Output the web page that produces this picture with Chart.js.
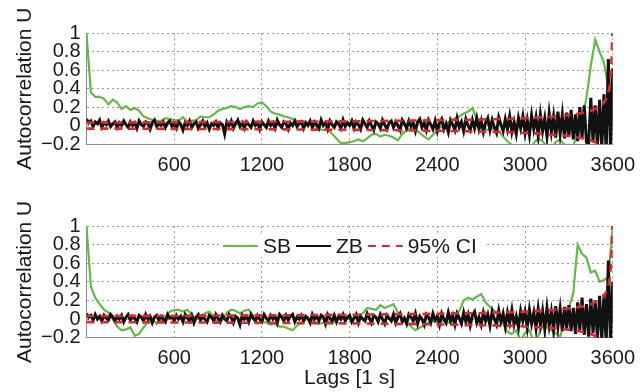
<!DOCTYPE html>
<html>
<head>
<meta charset="utf-8">
<script src="https://cdn.jsdelivr.net/npm/chart.js@4.4.1/dist/chart.umd.min.js"></script>
<style>
  body { margin: 0; background: #fff; }
  canvas { display: block; }
</style>
</head>
<body>
<canvas id="top" width="644" height="196"></canvas>
<canvas id="bottom" width="644" height="196"></canvas>
<script>
// lag spacing of the typed samples (seconds)
const sbStep = 30;
const zbStep = 15;

const xTicks = [600, 1200, 1800, 2400, 3000, 3600];
const yTicks = [-0.2, 0, 0.2, 0.4, 0.6, 0.8, 1];

// SB autocorrelation, one value every 30 s
const sbTop = [
  1.00, 0.36, 0.31, 0.31, 0.29, 0.23, 0.28, 0.25, 0.18, 0.21,
  0.17, 0.19, 0.16, 0.10, 0.08, 0.06, 0.05, 0.05, 0.08, 0.07,
  0.06, 0.05, 0.09, 0.04, 0.05, 0.06, 0.10, 0.09, 0.09, 0.12,
  0.16, 0.18, 0.19, 0.21, 0.20, 0.18, 0.20, 0.21, 0.20, 0.24,
  0.25, 0.21, 0.15, 0.13, 0.12, 0.10, 0.09, 0.07, 0.05, 0.04,
  0.03, 0.02, 0.00, -0.04, -0.05, -0.04, -0.09, -0.14, -0.19, -0.19,
  -0.18, -0.17, -0.15, -0.17, -0.14, -0.10, -0.09, -0.12, -0.10, -0.11,
  -0.13, -0.16, -0.09, -0.05, -0.03, -0.04, -0.08, -0.12, -0.15, -0.10,
  -0.05, -0.01, 0.02, 0.05, 0.08, 0.10, 0.13, 0.15, 0.19, 0.07,
  0.01, -0.04, -0.05, -0.02, -0.06, -0.12, -0.17, -0.21, -0.26, -0.24,
  -0.22, -0.28, -0.19, -0.14, -0.17, -0.23, -0.25, -0.18, -0.15, -0.21,
  -0.27, -0.22, -0.08, 0.08, 0.30, 0.65, 0.93, 0.80, 0.68, 0.42,
  0.25
];
const sbBottom = [
  1.00, 0.35, 0.23, 0.16, 0.10, 0.07, 0.00, -0.08, -0.12, -0.11,
  -0.09, -0.18, -0.16, -0.09, -0.03, 0.00, -0.05, -0.02, 0.02, 0.08,
  0.10, 0.10, 0.08, 0.10, 0.05, 0.00, 0.02, 0.06, 0.08, 0.02,
  -0.04, -0.01, 0.07, 0.10, 0.09, 0.06, 0.09, 0.10, 0.04, -0.05,
  -0.02, -0.04, -0.06, -0.05, -0.08, -0.08, -0.10, -0.12, -0.07, -0.04,
  0.00, -0.01, -0.03, -0.05, -0.04, -0.02, -0.05, 0.00, 0.03, 0.02,
  0.00, 0.01, 0.04, 0.06, 0.12, 0.11, 0.10, 0.15, 0.12, 0.14,
  0.16, 0.07, 0.01, -0.04, -0.08, -0.12, -0.09, -0.07, -0.04, -0.02,
  -0.03, -0.02, -0.03, -0.04, 0.00, 0.09, 0.20, 0.23, 0.21, 0.24,
  0.27, 0.18, 0.13, 0.09, 0.05, -0.05, -0.14, -0.16, -0.12, -0.23,
  -0.15, -0.12, -0.24, -0.18, -0.07, -0.09, -0.12, -0.15, -0.19, -0.03,
  0.12, 0.28, 0.80, 0.70, 0.66, 0.50, 0.52, 0.40, 0.42, 0.45,
  1.00
];

// ZB autocorrelation, one value every 15 s
const zbTop = [
  0.07, 0.03, 0.05, -0.01, 0.04, 0.02, 0.06, -0.02, 0.03, 0.01, 0.05, -0.01, 0.02, 0.04, -0.02, 0.03, 0.00, 0.05, 0.01, -0.02,
  0.04, 0.00, 0.03, -0.03, 0.05, 0.01, -0.01, 0.04, 0.02, -0.04, 0.03, 0.06, -0.01, 0.02, 0.00, 0.04, -0.02, 0.03, 0.05, -0.01,
  0.02, -0.03, 0.04, 0.01, -0.05, 0.03, 0.00, 0.05, -0.02, 0.02, 0.04, -0.03, 0.01, 0.05, -0.01, 0.03, -0.04, 0.02, 0.00, 0.04,
  -0.02, 0.03, 0.01, -0.09, 0.04, 0.00, 0.05, -0.03, 0.02, 0.06, -0.01, 0.03, -0.03, 0.04, 0.01, -0.02, 0.05, 0.00, 0.03, -0.04,
  0.04, 0.01, -0.02, 0.05, 0.00, 0.03, -0.03, 0.06, 0.01, -0.02, 0.04, 0.02, -0.04, 0.03, 0.00, 0.05, -0.01, 0.02, 0.04, -0.03,
  0.03, 0.00, 0.05, -0.02, 0.04, 0.01, -0.03, 0.06, 0.00, 0.03, -0.04, 0.05, 0.01, -0.02, 0.04, 0.02, -0.03, 0.06, -0.01, 0.03,
  0.00, 0.05, -0.03, 0.04, 0.01, -0.04, 0.06, 0.02, -0.02, 0.05, 0.00, -0.05, 0.04, 0.02, -0.03, 0.06, 0.01, -0.04, 0.03, 0.05,
  -0.02, 0.04, 0.00, -0.05, 0.06, 0.02, -0.03, 0.05, -0.01, 0.03, -0.06, 0.04, 0.07, -0.02, 0.03, -0.05, 0.06, 0.01, -0.04, 0.05,
  -0.06, 0.03, 0.07, -0.04, 0.02, -0.07, 0.06, 0.01, -0.05, 0.08, -0.02, 0.04, -0.06, 0.07, 0.00, -0.05, 0.06, -0.03, 0.08, -0.04,
  0.05, -0.07, 0.03, 0.08, -0.05, 0.06, -0.02, -0.08, 0.09, 0.01, -0.06, 0.07, -0.04, 0.10, -0.07, 0.04, -0.09, 0.08, -0.03, 0.10,
  -0.08, 0.06, -0.10, 0.11, -0.04, 0.09, -0.11, 0.12, -0.06, 0.08, -0.12, 0.13, -0.07, 0.10, -0.13, 0.15, -0.09, 0.12, -0.14, 0.14,
  -0.12, 0.17, -0.15, 0.12, -0.17, 0.20, -0.13, 0.22, -0.18, -0.20, 0.30, -0.18, 0.22, -0.22, 0.28, -0.25, 0.34, -0.28, 0.72, -0.30,
  0.62
];
const zbBottom = [
  0.06, 0.02, 0.04, -0.01, 0.05, 0.00, 0.03, -0.02, 0.04, 0.01, -0.01, 0.05, 0.02, -0.02, 0.03, 0.00, 0.04, -0.03, 0.02, 0.05,
  -0.01, 0.03, 0.01, -0.03, 0.04, 0.02, -0.02, 0.05, 0.00, 0.03, -0.04, 0.02, 0.04, -0.01, 0.03, 0.00, -0.03, 0.05, 0.01, 0.02,
  -0.02, 0.04, 0.00, 0.03, -0.03, 0.05, 0.01, -0.02, 0.04, -0.04, 0.02, 0.05, -0.01, 0.03, 0.00, -0.03, 0.04, 0.02, -0.02, 0.05,
  0.01, -0.03, 0.04, 0.00, -0.02, 0.05, 0.02, -0.04, 0.03, 0.01, -0.06, 0.04, 0.00, 0.03, -0.03, 0.05, 0.01, -0.02, 0.04, 0.00,
  -0.03, 0.05, 0.01, -0.02, 0.04, 0.00, 0.03, -0.04, 0.05, 0.02, -0.02, 0.04, -0.01, 0.03, 0.05, -0.03, 0.02, 0.00, 0.04, -0.02,
  0.03, 0.01, -0.04, 0.05, 0.00, 0.03, -0.02, 0.04, 0.02, -0.05, 0.05, 0.01, -0.02, 0.04, -0.03, 0.03, 0.00, 0.05, -0.02, 0.02,
  0.04, -0.03, 0.01, 0.05, -0.04, 0.03, 0.00, -0.02, 0.06, 0.01, -0.04, 0.04, 0.02, -0.03, 0.05, 0.00, -0.05, 0.04, 0.01, -0.02,
  0.05, -0.04, 0.02, 0.06, -0.03, 0.01, -0.05, 0.05, 0.02, -0.02, 0.06, -0.05, 0.03, 0.00, -0.06, 0.05, 0.02, -0.04, 0.06, -0.01,
  0.03, -0.06, 0.06, 0.00, -0.04, 0.07, -0.02, 0.04, -0.06, 0.06, 0.01, -0.05, 0.07, -0.03, 0.05, -0.07, 0.04, 0.08, -0.04, 0.02,
  -0.06, 0.07, -0.02, 0.05, -0.07, 0.08, 0.00, -0.06, 0.09, -0.03, 0.06, -0.08, 0.07, -0.04, 0.10, -0.06, 0.03, -0.09, 0.09, -0.02,
  0.08, -0.09, 0.10, -0.05, 0.07, -0.10, 0.11, -0.06, 0.09, -0.11, 0.12, -0.07, 0.08, -0.12, 0.14, -0.08, 0.11, -0.13, 0.13, -0.10,
  0.15, -0.13, 0.12, -0.16, 0.18, -0.12, 0.23, -0.17, 0.16, -0.19, 0.22, -0.15, 0.20, -0.21, 0.25, -0.23, 0.27, -0.26, 0.63, -0.28,
  0.40
];

// 95% confidence bounds
const ciLags  = [0, 300, 600, 900, 1200, 1500, 1800, 2100, 2400, 2700, 2900, 3000, 3100, 3200, 3300, 3400, 3450, 3500, 3530, 3550, 3570, 3580, 3590, 3595, 3600];
const ciUpper = [0.033, 0.034, 0.036, 0.038, 0.040, 0.043, 0.046, 0.051, 0.057, 0.065, 0.073, 0.080, 0.088, 0.098, 0.113, 0.139, 0.160, 0.196, 0.230, 0.277, 0.358, 0.438, 0.620, 0.877, 1.20];
const ciLower = [-0.033, -0.034, -0.036, -0.038, -0.040, -0.043, -0.046, -0.051, -0.057, -0.065, -0.073, -0.080, -0.088, -0.098, -0.113, -0.139, -0.160, -0.196, -0.230, -0.277, -0.358, -0.438, -0.620, -0.877, -1.20];

const FONT = '"Liberation Sans", Arial, Helvetica, sans-serif';
const GREEN = '#63bb47';
const BLACK = '#111111';
const RED = '#e3262b';

Chart.defaults.font.family = FONT;
Chart.defaults.color = '#1a1a1a';

function stepPoints(values, step) {
  return values.map((v, i) => ({ x: i * step, y: v }));
}
function lagPoints(lags, values) {
  return lags.map((l, i) => ({ x: l, y: values[i] }));
}

// MATLAB style legend drawn inside the plot box
const inlineLegend = {
  id: 'inlineLegend',
  afterDatasetsDraw(chart) {
    const ctx = chart.ctx;
    const y = chart.chartArea.top + 20;
    let x = 223;
    const items = chart.data.datasets.filter(d => !d.noLegend);
    ctx.save();
    ctx.font = '21px ' + FONT;
    ctx.textBaseline = 'middle';
    ctx.fillStyle = '#fff';
    ctx.fillRect(x - 4, y - 11, 268, 22);
    items.forEach(d => {
      ctx.beginPath();
      ctx.strokeStyle = d.borderColor;
      ctx.lineWidth = 2;
      ctx.setLineDash(d.borderDash || []);
      ctx.moveTo(x, y);
      ctx.lineTo(x + 35, y);
      ctx.stroke();
      x += 40;
      ctx.fillStyle = '#1a1a1a';
      ctx.fillText(d.label, x, y + 1);
      x += ctx.measureText(d.label).width + 5;
    });
    ctx.restore();
  }
};

const gridOpts = { color: '#9a9a9a', lineWidth: 1, drawTicks: false };
const borderOpts = { display: true, color: '#8c8c8c', width: 1, dash: [2, 3] };

function makePanel(id, sb, zb, opts) {
  return new Chart(document.getElementById(id), {
    type: 'line',
    data: {
      datasets: [
        { label: 'SB', data: stepPoints(sb, sbStep), borderColor: GREEN, borderWidth: 2.2, order: 3 },
        { label: 'ZB', data: stepPoints(zb, zbStep), borderColor: BLACK, borderWidth: 3, order: 2 },
        { label: '95% CI', data: lagPoints(ciLags, ciUpper), borderColor: RED, borderWidth: 2.6, borderDash: [8, 6], order: 1 },
        { label: '95% CI', data: lagPoints(ciLags, ciLower), borderColor: RED, borderWidth: 2.6, borderDash: [8, 6], order: 1, noLegend: true }
      ]
    },
    options: {
      responsive: false,
      animation: false,
      events: [],
      layout: { padding: { top: opts.top, right: 29.3, left: 0, bottom: 0 } },
      elements: { point: { radius: 0 }, line: { tension: 0, fill: false } },
      datasets: { line: { clip: 0 } },
      plugins: { legend: { display: false }, tooltip: { enabled: false } },
      scales: {
        x: {
          type: 'linear', min: 0, max: 3600,
          afterFit: s => { s.height = opts.xHeight; },
          afterBuildTicks: s => { s.ticks = [0].concat(xTicks).map(v => ({ value: v })); },
          ticks: {
            autoSkip: false, maxRotation: 0, padding: 9,
            font: { size: 20 },
            callback: v => (v === 0 ? '' : String(v))
          },
          grid: gridOpts,
          border: borderOpts,
          title: { display: opts.xTitle, text: 'Lags [1 s]', font: { size: 21 }, padding: { top: 0, bottom: 1 } }
        },
        y: {
          min: -0.2, max: 1,
          afterFit: s => { s.width = 86.5; },
          afterBuildTicks: s => { s.ticks = yTicks.map(v => ({ value: v })); },
          ticks: {
            autoSkip: false, padding: 6,
            font: { size: 20 },
            callback: v => String(+v.toFixed(1)).replace('-', '\u2212')
          },
          grid: gridOpts,
          border: borderOpts,
          title: { display: true, text: 'Autocorrelation U', font: { size: 21 }, padding: { top: 13, bottom: 0 } }
        }
      }
    },
    plugins: opts.legend ? [inlineLegend] : []
  });
}

makePanel('top', sbTop, zbTop, { top: 33.3, xHeight: 52, xTitle: false, legend: false });
makePanel('bottom', sbBottom, zbBottom, { top: 30, xHeight: 54.3, xTitle: true, legend: true });
</script>
</body>
</html>
